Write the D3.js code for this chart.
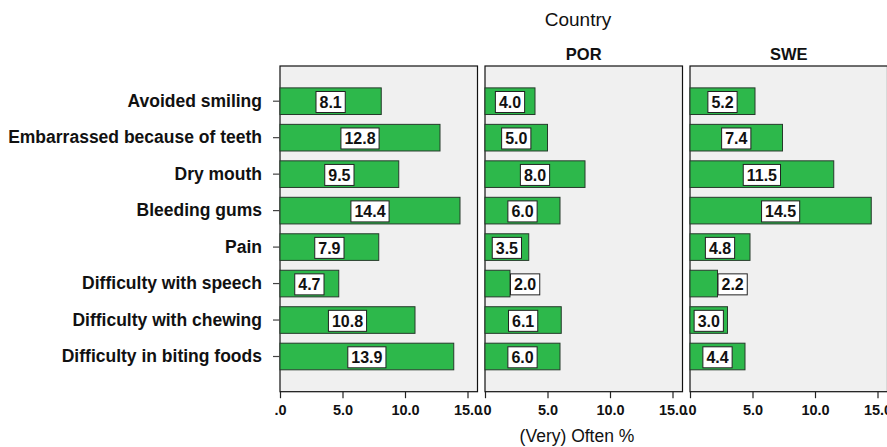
<!DOCTYPE html>
<html><head><meta charset="utf-8">
<script src="https://cdn.jsdelivr.net/npm/d3@7"></script>
<style>
html,body{margin:0;padding:0;background:#fff;}
svg{display:block;font-family:"Liberation Sans",Arial,sans-serif;}
</style></head>
<body><svg id="chart" width="887" height="447"></svg>
<script>
const categories = ["Avoided smiling","Embarrassed because of teeth","Dry mouth","Bleeding gums","Pain","Difficulty with speech","Difficulty with chewing","Difficulty in biting foods"];
const panelNames = ["", "POR", "SWE"];
const valuesPanel1 = [8.1, 12.8, 9.5, 14.4, 7.9, 4.7, 10.8, 13.9];
const valuesPOR = [4.0, 5.0, 8.0, 6.0, 3.5, 2.0, 6.1, 6.0];
const valuesSWE = [5.2, 7.4, 11.5, 14.5, 4.8, 2.2, 3.0, 4.4];
const tickValues = [0, 5, 10, 15];
const tickLabels = [".0", "5.0", "10.0", "15.0"];
const xTitle = "(Very) Often %";
const facetTitle = "Country";

const series = [valuesPanel1, valuesPOR, valuesSWE];

const svg = d3.select("#chart");
const plotTop = 66, plotBottom = 391.7;
const panelW = 197.5, panelStep = 205, firstX = 280;

const y = d3.scaleBand().domain(categories).range([plotTop, plotBottom]).paddingInner(0.27).paddingOuter(0.6);
const x = d3.scaleLinear().domain([0, 15.8]).range([0, panelW]);

svg.append("text").attr("x", 578).attr("y", 25.7).attr("text-anchor", "middle")
  .attr("font-size", 19).attr("fill", "#111").text(facetTitle);

series.forEach((vals, i) => {
  const px = firstX + i * panelStep;
  const g = svg.append("g").attr("transform", `translate(${px},0)`);
  g.append("rect").attr("x", 0).attr("y", plotTop).attr("width", panelW).attr("height", plotBottom - plotTop)
    .attr("fill", "#f0f0f0").attr("stroke", "#111").attr("stroke-width", 1.2);
  if (panelNames[i]) {
    g.append("text").attr("x", panelW / 2).attr("y", 60).attr("text-anchor", "middle")
      .attr("font-size", 16.5).attr("font-weight", "bold").attr("fill", "#111").text(panelNames[i]);
  }
  g.selectAll("rect.bar").data(vals).join("rect").attr("class", "bar")
    .attr("x", x(0)).attr("y", (d, j) => y(categories[j]))
    .attr("width", d => x(d) - x(0)).attr("height", y.bandwidth())
    .attr("fill", "#2db84b").attr("stroke", "#263a2b").attr("stroke-width", 1);
  const lab = g.selectAll("g.lab").data(vals).join("g").attr("class", "lab");
  lab.each(function(d, j) {
    const gg = d3.select(this);
    const t = gg.append("text").attr("font-size", 16).attr("font-weight", "bold").attr("fill", "#111")
      .attr("text-anchor", "middle").text(d.toFixed(1));
    const tw = t.node().getComputedTextLength();
    const bw = tw + 7, bh = 21;
    const barW = x(d) - x(0);
    let cx = x(0) + barW / 2;
    if (bw > barW) cx = x(d) + bw / 2 + 0.5;
    const cy = y(categories[j]) + y.bandwidth() / 2 + 0.8;
    gg.insert("rect", "text").attr("x", cx - bw / 2).attr("y", cy - bh / 2).attr("width", bw).attr("height", bh)
      .attr("fill", "#fff").attr("stroke", "#222").attr("stroke-width", 1);
    t.attr("x", cx).attr("y", cy).attr("dy", "0.36em");
  });
  const ax = g.append("g").attr("transform", `translate(0,${plotBottom})`)
    .call(d3.axisBottom(x).tickValues(tickValues).tickSize(6.5).tickPadding(6.5)
      .tickFormat((d, k) => tickLabels[k]));
  ax.select(".domain").remove();
  ax.selectAll("line").attr("stroke", "#222").attr("stroke-width", 1.2);
  ax.selectAll("text").attr("font-size", 14.5).attr("font-weight", "bold").attr("fill", "#111")
    .attr("font-family", "Liberation Sans, Arial, sans-serif");
});

const ay = svg.append("g").attr("transform", `translate(${firstX},0)`)
  .call(d3.axisLeft(y).tickSize(7).tickPadding(11));
ay.select(".domain").remove();
ay.selectAll("line").attr("stroke", "#444").attr("stroke-width", 1.2);
ay.selectAll("text").attr("font-size", 17.5).attr("font-weight", "bold").attr("fill", "#111")
  .attr("font-family", "Liberation Sans, Arial, sans-serif");

svg.append("text").attr("x", 577).attr("y", 441.5).attr("text-anchor", "middle")
  .attr("font-size", 17.5).attr("fill", "#111").text(xTitle);
</script></body></html>
